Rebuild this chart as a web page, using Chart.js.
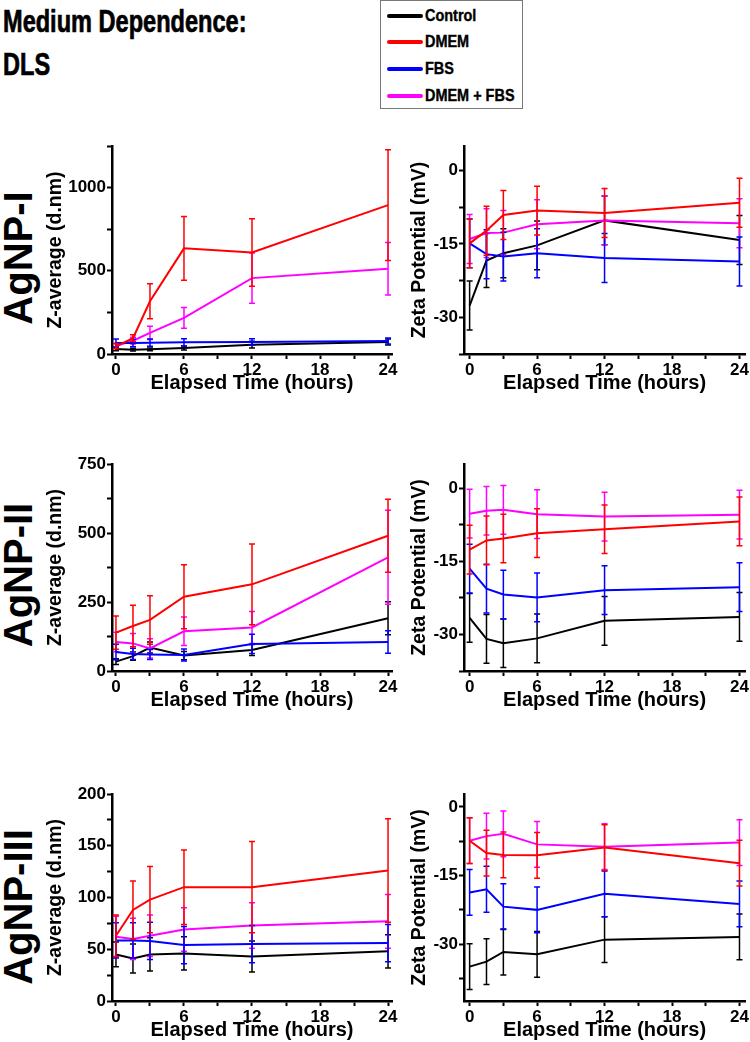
<!DOCTYPE html>
<html>
<head>
<meta charset="utf-8">
<script src="https://cdn.jsdelivr.net/npm/chart.js@4.4.1/dist/chart.umd.min.js"></script>
<style>
  html, body { margin: 0; padding: 0; background: #fff; overflow: hidden; }
  body { width: 750px; height: 1042px; position: relative; font-family: "Liberation Sans", Arial, sans-serif; color: #000; }
  canvas { position: absolute; }
  .title { position: absolute; left: 3px; top: 0; font-weight: bold; font-size: 31px; line-height: 43px;
           transform: scaleX(0.76); transform-origin: 0 0; white-space: nowrap; -webkit-text-stroke: 0.7px #000; }
  .legend { position: absolute; left: 380px; top: 0; width: 141px; height: 107px; border: 1px solid #777; }
  .sample { position: absolute; left: 6px; width: 36px; height: 4px; border-radius: 2px; }
  .ltext { position: absolute; left: 44px; font-size: 17px; font-weight: bold; line-height: 20px;
           transform: scaleX(0.85); transform-origin: 0 50%; white-space: nowrap; -webkit-text-stroke: 0.4px #000; }
  .np { position: absolute; font-size: 40px; font-weight: bold; line-height: 40px; white-space: nowrap;
        transform: translate(-50%, -50%) rotate(-90deg); }
</style>
</head>
<body>
<div class="title">Medium Dependence:<br>DLS</div>
<div class="legend" id="legend"></div>

<script>
// time points (hours)
const hours = [0, 1.5, 3, 6, 12, 24];
const seriesNames = ["Control", "DMEM", "FBS", "DMEM + FBS"];
const seriesColors = ["#000000", "#ff0000", "#0000ff", "#ff00ff"];
const particles = ["AgNP-I", "AgNP-II", "AgNP-III"];

// AgNP-I  Z-average (d.nm): Control, DMEM, FBS, DMEM+FBS
const size1 = [
	[30, 26, 28, 36, 56, 72],
	[46, 95, 317, 635, 610, 895],
	[66, 66, 68, 70, 72, 78],
	[50, 80, 127, 217, 456, 512],
];
const size1Err = [
	[10, 8, 8, 12, 20, 18],
	[15, 20, 105, 192, 203, 333],
	[24, 22, 22, 22, 20, 18],
	[15, 20, 40, 62, 151, 158],
];
// AgNP-I  Zeta potential (mV)
const zeta1 = [
	[-27.6, -18.4, -16.9, -15.3, -10.2, -14.2],
	[-14.9, -12.3, -9.1, -8.2, -8.7, -6.6],
	[-14.9, -17.1, -17.6, -16.9, -17.9, -18.6],
	[-14.0, -12.8, -12.7, -11.0, -10.2, -10.8],
];
const zeta1Err = [
	[5, 5.5, 5, 5, 5, 5],
	[5, 5, 5, 5, 5, 5],
	[5, 5, 5, 5, 5, 5],
	[5, 5, 4.5, 5, 5, 5],
];

// AgNP-II
const size2 = [
	[34, 54, 85, 56, 76, 191],
	[139, 163, 185, 269, 314, 490],
	[69, 62, 60, 58, 98, 105],
	[105, 100, 82, 144, 158, 412],
];
const size2Err = [
	[10, 15, 20, 15, 20, 60],
	[60, 75, 88, 116, 146, 132],
	[28, 20, 18, 22, 35, 41],
	[35, 36, 35, 52, 58, 170],
];
const zeta2 = [
	[-26.6, -30.9, -31.8, -30.8, -27.2, -26.4],
	[-12.6, -10.7, -10.3, -9.2, -8.4, -6.8],
	[-16.5, -20.6, -21.8, -22.4, -20.9, -20.3],
	[-5.2, -4.6, -4.4, -5.3, -5.8, -5.4],
];
const zeta2Err = [
	[5, 5, 5, 5, 5, 5],
	[5, 5, 5, 5, 5, 5],
	[5, 5, 5, 5, 5, 5],
	[5, 5, 5, 5, 5, 5],
];

// AgNP-III
const size3 = [
	[45, 41, 45, 46, 43, 48],
	[63, 88, 98, 110, 110, 126],
	[58.5, 58.5, 58, 54, 55, 56],
	[62, 60, 63, 69, 73, 77],
];
const size3Err = [
	[12, 14, 16, 16, 15, 16],
	[20, 28, 32, 36, 44, 50],
	[17, 17, 18, 18, 18, 18],
	[20, 20, 20, 21, 22, 26],
];
const zeta3 = [
	[-34.9, -33.8, -31.7, -32.2, -29.0, -28.4],
	[-7.4, -10.1, -10.5, -10.6, -8.9, -12.3],
	[-18.7, -18.0, -21.8, -22.5, -19.0, -21.2],
	[-7.4, -6.4, -5.9, -8.2, -8.7, -7.8],
];
const zeta3Err = [
	[5, 5, 5, 5, 5, 5],
	[5, 5, 5, 5, 5, 5],
	[5, 5, 5, 5, 5, 5],
	[5, 5, 5, 5, 5, 5],
];

Chart.defaults.font.family = "'Liberation Sans', Arial, sans-serif";
Chart.defaults.font.weight = "bold";
Chart.defaults.color = "#000";

// draws error bars after each line, using the chart's own scales
const errorBars = {
	id: "errorBars",
	afterDatasetDraw(chart, args) {
		const ds = chart.data.datasets[args.index];
		const xs = chart.scales.x;
		const ys = chart.scales.y;
		const ctx = chart.ctx;
		ctx.save();
		ctx.strokeStyle = ds.borderColor;
		ctx.lineWidth = 1.5;
		ds.data.forEach((p, i) => {
			const e = ds.errors[i];
			const x = xs.getPixelForValue(p.x);
			const yTop = ys.getPixelForValue(p.y + e);
			const yBot = ys.getPixelForValue(p.y - e);
			ctx.beginPath();
			ctx.moveTo(x, yTop);
			ctx.lineTo(x, yBot);
			ctx.moveTo(x - 3, yTop);
			ctx.lineTo(x + 3, yTop);
			ctx.moveTo(x - 3, yBot);
			ctx.lineTo(x + 3, yBot);
			ctx.stroke();
		});
		ctx.restore();
	},
};

const drawOrder = [4, 1, 2, 3];

const createPanel = (box, rows, errs, yAxis) => {
	const canvas = document.createElement("canvas");
	canvas.width = box.w;
	canvas.height = box.h;
	canvas.style.left = box.x + "px";
	canvas.style.top = box.y + "px";
	document.body.appendChild(canvas);

	return new Chart(canvas.getContext("2d"), {
		type: "line",
		data: {
			datasets: rows.map((vals, s) => ({
				label: seriesNames[s],
				data: vals.map((v, i) => ({ x: hours[i], y: v })),
				errors: errs[s],
				borderColor: seriesColors[s],
				borderWidth: 2,
				pointRadius: 0,
				tension: 0,
				fill: false,
				order: drawOrder[s],
			})),
		},
		options: {
			responsive: false,
			animation: false,
			devicePixelRatio: 1,
			layout: { padding: { top: 12, right: box.padRight, bottom: 0, left: 0 } },
			plugins: { legend: { display: false }, tooltip: { enabled: false } },
			scales: {
				x: {
					type: "linear",
					min: box.xMin,
					max: box.xMax,
					border: { display: true, color: "#000", width: 2.5 },
					grid: { drawOnChartArea: false, drawTicks: true, tickLength: 5, tickColor: "#000", tickWidth: 2 },
					ticks: {
						stepSize: 3,
						includeBounds: false,
						autoSkip: false,
						maxRotation: 0,
						padding: 1,
						font: { size: 17, weight: "bold" },
						callback: (v) => (v % 6 === 0 ? String(v) : ""),
					},
					title: { display: true, text: "Elapsed Time (hours)", font: { size: 20, weight: "bold" }, padding: 0 },
					afterFit: (s) => { s.height = 41; },
				},
				y: {
					type: "linear",
					min: yAxis.min,
					max: yAxis.max,
					border: { display: true, color: "#000", width: 2.5 },
					grid: { drawOnChartArea: false, drawTicks: true, tickLength: 5, tickColor: "#000", tickWidth: 2 },
					ticks: {
						stepSize: yAxis.step,
						includeBounds: false,
						autoSkip: false,
						padding: 1,
						font: { size: 17, weight: "bold" },
						callback: (v) => (Math.abs(v % yAxis.label) < 1e-6 ? String(v) : ""),
					},
					title: { display: true, text: yAxis.title, font: { size: 19.5, weight: "bold" }, padding: 0 },
					afterFit: (s) => { s.width = box.yWidth; },
				},
			},
		},
		plugins: [errorBars],
	});
};

const rowTops = [134, 452, 782];
const rowHeights = [261, 260, 260];
const leftBox = (r) => ({ x: 44, y: rowTops[r], w: 356, h: rowHeights[r], padRight: 8, yWidth: 68, xMin: -0.35, xMax: 24.35 });
const rightBox = (r) => ({ x: 408, y: rowTops[r], w: 342, h: rowHeights[r], padRight: 3, yWidth: 56, xMin: -0.5, xMax: 24.5 });

const sizeTitle = "Z-average (d.nm)";
const zetaTitle = "Zeta Potential (mV)";

createPanel(leftBox(0), size1, size1Err, { min: 0, max: 1250, step: 250, label: 500, title: sizeTitle });
createPanel(rightBox(0), zeta1, zeta1Err, { min: -37.5, max: 5, step: 7.5, label: 15, title: zetaTitle });
createPanel(leftBox(1), size2, size2Err, { min: 0, max: 750, step: 125, label: 250, title: sizeTitle });
createPanel(rightBox(1), zeta2, zeta2Err, { min: -37.5, max: 5, step: 7.5, label: 15, title: zetaTitle });
createPanel(leftBox(2), size3, size3Err, { min: 0, max: 200, step: 25, label: 50, title: sizeTitle });
createPanel(rightBox(2), zeta3, zeta3Err, { min: -42.4, max: 2.8, step: 7.5, label: 15, title: zetaTitle });

// particle labels
const npCenters = [258, 575, 907];
particles.forEach((name, i) => {
	const d = document.createElement("div");
	d.className = "np";
	d.textContent = name;
	d.style.left = "18px";
	d.style.top = npCenters[i] + "px";
	document.body.appendChild(d);
});

// legend
const legend = document.getElementById("legend");
seriesNames.forEach((name, i) => {
	const cy = 14.5 + i * 26.9;
	const line = document.createElement("div");
	line.className = "sample";
	line.style.background = seriesColors[i];
	line.style.top = (cy - 2) + "px";
	legend.appendChild(line);
	const t = document.createElement("div");
	t.className = "ltext";
	t.textContent = name;
	t.style.top = (cy - 10) + "px";
	legend.appendChild(t);
});
</script>
</body>
</html>
